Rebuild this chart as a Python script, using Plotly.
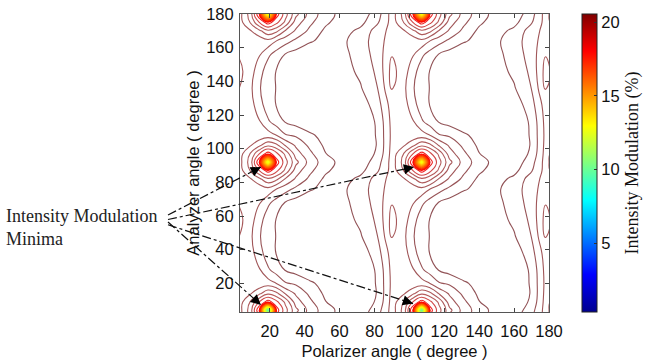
import plotly.graph_objects as go

# ---------------- data ----------------
polarizer_deg = [2, 9, 14, 19, 24, 29, 35, 43, 52, 62, 72, 82, 90, 97, 102, 107,
                 112, 117, 123, 131, 140, 150, 160, 170, 178, 185]
analyzer_deg = [-1, 4, 9, 14, 20, 28, 38, 48, 58, 68, 76, 82, 87, 92, 97, 102,
                108, 116, 126, 136, 146, 156, 164, 170, 175, 180, 185]

# intensity modulation (%) : rows follow analyzer_deg, columns follow polarizer_deg
intensity_modulation = [
    [19.40, 18.83, 18.21, 17.70, 18.12, 18.61, 19.36, 19.77, 20.12, 20.35, 20.28, 19.88, 19.40, 18.83, 18.21, 17.70, 18.12, 18.61, 19.36, 19.77, 20.12, 20.35, 20.28, 19.88, 19.40, 18.83],
    [19.39, 18.70, 17.55, 9.00, 17.70, 18.40, 19.09, 19.65, 20.03, 20.31, 20.39, 19.98, 19.39, 18.70, 17.55, 9.20, 17.70, 18.40, 19.09, 19.65, 20.03, 20.31, 20.39, 19.98, 19.39, 18.70],
    [19.40, 18.83, 18.21, 17.70, 18.12, 18.61, 19.36, 19.77, 20.17, 20.36, 20.44, 20.11, 19.40, 18.83, 18.21, 17.70, 18.12, 18.61, 19.36, 19.77, 20.17, 20.36, 20.44, 20.11, 19.40, 18.83],
    [19.42, 19.22, 18.94, 18.60, 18.78, 19.22, 19.57, 19.93, 20.25, 20.36, 20.46, 20.15, 19.42, 19.22, 18.94, 18.60, 18.78, 19.22, 19.57, 19.93, 20.25, 20.36, 20.46, 20.15, 19.42, 19.22],
    [19.44, 19.40, 19.42, 19.37, 19.53, 19.82, 19.90, 20.13, 20.28, 20.39, 20.48, 20.13, 19.44, 19.40, 19.42, 19.37, 19.53, 19.82, 19.90, 20.13, 20.28, 20.39, 20.48, 20.13, 19.44, 19.40],
    [19.42, 19.44, 19.49, 19.79, 20.02, 20.20, 20.31, 20.38, 20.43, 20.46, 20.48, 20.11, 19.42, 19.44, 19.49, 19.79, 20.02, 20.20, 20.31, 20.38, 20.43, 20.46, 20.48, 20.11, 19.42, 19.44],
    [19.36, 19.40, 19.69, 20.05, 20.20, 20.28, 20.35, 20.39, 20.43, 20.43, 20.38, 19.98, 19.36, 19.40, 19.69, 20.05, 20.20, 20.28, 20.35, 20.39, 20.43, 20.43, 20.38, 19.98, 19.36, 19.40],
    [19.16, 19.45, 19.82, 20.02, 20.20, 20.28, 20.35, 20.39, 20.41, 20.35, 20.21, 19.84, 19.16, 19.45, 19.82, 20.02, 20.20, 20.28, 20.35, 20.39, 20.41, 20.35, 20.21, 19.84, 19.16, 19.45],
    [19.07, 19.39, 19.69, 20.05, 20.20, 20.28, 20.35, 20.38, 20.38, 20.31, 20.11, 19.77, 19.07, 19.39, 19.69, 20.05, 20.20, 20.28, 20.35, 20.38, 20.38, 20.31, 20.11, 19.77, 19.07, 19.39],
    [19.21, 19.42, 19.49, 19.77, 20.00, 20.20, 20.31, 20.36, 20.35, 20.26, 20.05, 19.69, 19.21, 19.42, 19.49, 19.77, 20.00, 20.20, 20.31, 20.36, 20.35, 20.26, 20.05, 19.69, 19.21, 19.42],
    [19.36, 19.40, 19.40, 19.29, 19.53, 19.72, 19.93, 20.15, 20.26, 20.23, 20.02, 19.65, 19.36, 19.40, 19.40, 19.29, 19.53, 19.72, 19.93, 20.15, 20.26, 20.23, 20.02, 19.65, 19.36, 19.40],
    [19.40, 19.22, 18.94, 18.60, 18.78, 19.22, 19.57, 19.93, 20.25, 20.30, 20.10, 19.69, 19.40, 19.22, 18.94, 18.60, 18.78, 19.22, 19.57, 19.93, 20.25, 20.30, 20.10, 19.69, 19.40, 19.22],
    [19.40, 18.83, 18.21, 17.70, 18.12, 18.61, 19.36, 19.77, 20.12, 20.35, 20.28, 19.88, 19.40, 18.83, 18.21, 17.70, 18.12, 18.61, 19.36, 19.77, 20.12, 20.35, 20.28, 19.88, 19.40, 18.83],
    [19.39, 18.70, 17.55, 12.00, 17.70, 18.40, 19.09, 19.65, 20.03, 20.31, 20.39, 19.98, 19.39, 18.70, 17.55, 12.20, 17.70, 18.40, 19.09, 19.65, 20.03, 20.31, 20.39, 19.98, 19.39, 18.70],
    [19.40, 18.83, 18.21, 17.70, 18.12, 18.61, 19.36, 19.77, 20.17, 20.36, 20.44, 20.11, 19.40, 18.83, 18.21, 17.70, 18.12, 18.61, 19.36, 19.77, 20.17, 20.36, 20.44, 20.11, 19.40, 18.83],
    [19.42, 19.22, 18.94, 18.60, 18.78, 19.22, 19.57, 19.93, 20.25, 20.36, 20.46, 20.15, 19.42, 19.22, 18.94, 18.60, 18.78, 19.22, 19.57, 19.93, 20.25, 20.36, 20.46, 20.15, 19.42, 19.22],
    [19.44, 19.40, 19.42, 19.37, 19.53, 19.82, 19.90, 20.13, 20.28, 20.39, 20.48, 20.13, 19.44, 19.40, 19.42, 19.37, 19.53, 19.82, 19.90, 20.13, 20.28, 20.39, 20.48, 20.13, 19.44, 19.40],
    [19.42, 19.44, 19.49, 19.79, 20.02, 20.20, 20.31, 20.38, 20.43, 20.46, 20.48, 20.11, 19.42, 19.44, 19.49, 19.79, 20.02, 20.20, 20.31, 20.38, 20.43, 20.46, 20.48, 20.11, 19.42, 19.44],
    [19.36, 19.40, 19.69, 20.05, 20.20, 20.28, 20.35, 20.39, 20.43, 20.43, 20.38, 19.98, 19.36, 19.40, 19.69, 20.05, 20.20, 20.28, 20.35, 20.39, 20.43, 20.43, 20.38, 19.98, 19.36, 19.40],
    [19.16, 19.45, 19.82, 20.02, 20.20, 20.28, 20.35, 20.39, 20.41, 20.35, 20.21, 19.84, 19.16, 19.45, 19.82, 20.02, 20.20, 20.28, 20.35, 20.39, 20.41, 20.35, 20.21, 19.84, 19.16, 19.45],
    [19.07, 19.39, 19.69, 20.05, 20.20, 20.28, 20.35, 20.38, 20.38, 20.31, 20.11, 19.77, 19.07, 19.39, 19.69, 20.05, 20.20, 20.28, 20.35, 20.38, 20.38, 20.31, 20.11, 19.77, 19.07, 19.39],
    [19.21, 19.42, 19.49, 19.77, 20.00, 20.20, 20.31, 20.36, 20.35, 20.26, 20.05, 19.69, 19.21, 19.42, 19.49, 19.77, 20.00, 20.20, 20.31, 20.36, 20.35, 20.26, 20.05, 19.69, 19.21, 19.42],
    [19.36, 19.40, 19.40, 19.29, 19.53, 19.72, 19.93, 20.15, 20.26, 20.23, 20.02, 19.65, 19.36, 19.40, 19.40, 19.29, 19.53, 19.72, 19.93, 20.15, 20.26, 20.23, 20.02, 19.65, 19.36, 19.40],
    [19.40, 19.22, 18.94, 18.60, 18.78, 19.22, 19.57, 19.93, 20.25, 20.30, 20.10, 19.69, 19.40, 19.22, 18.94, 18.60, 18.78, 19.22, 19.57, 19.93, 20.25, 20.30, 20.10, 19.69, 19.40, 19.22],
    [19.40, 18.83, 18.21, 17.70, 18.12, 18.61, 19.36, 19.77, 20.12, 20.35, 20.28, 19.88, 19.40, 18.83, 18.21, 17.70, 18.12, 18.61, 19.36, 19.77, 20.12, 20.35, 20.28, 19.88, 19.40, 18.83],
    [19.39, 18.70, 17.55, 12.00, 17.70, 18.40, 19.09, 19.65, 20.03, 20.31, 20.39, 19.98, 19.39, 18.70, 17.55, 12.20, 17.70, 18.40, 19.09, 19.65, 20.03, 20.31, 20.39, 19.98, 19.39, 18.70],
    [19.40, 18.83, 18.21, 17.70, 18.12, 18.61, 19.36, 19.77, 20.17, 20.36, 20.44, 20.11, 19.40, 18.83, 18.21, 17.70, 18.12, 18.61, 19.36, 19.77, 20.17, 20.36, 20.44, 20.11, 19.40, 18.83],
]

cbar_range = [0.34, 20.56]
cbar_ticks = [5, 10, 15, 20]
axis_ticks = [20, 40, 60, 80, 100, 120, 140, 160, 180]

# minima pointed at by the arrows (degree)
minima_pol = [15.0, 102.7, 15.0, 102.1]
minima_ana = [89.1, 89.1, 7.2, 8.0]

# ---------------- styling ----------------
SANS = "Liberation Sans, Arial, Helvetica, sans-serif"
SERIF = "Liberation Serif, Times New Roman, serif"

jet = [[0.0, "#00008F"], [0.125, "#0000FF"], [0.375, "#00FFFF"],
       [0.625, "#FFFF00"], [0.875, "#FF0000"], [1.0, "#800000"]]
line_scale = [[0.0, "#00008F"], [0.125, "#0000FF"], [0.375, "#00FFFF"],
              [0.625, "#FFFF00"], [0.86, "#FF0000"], [0.875, "#e03a3a"],
              [0.9, "#b65c5c"], [1.0, "#8a5055"]]

fig = go.Figure()

fig.add_trace(go.Contour(
    x=polarizer_deg, y=analyzer_deg, z=intensity_modulation,
    zmin=cbar_range[0], zmax=cbar_range[1], zauto=False,
    colorscale=line_scale, showscale=False,
    autocontour=False,
    contours=dict(start=0.38, end=20.51, size=0.33, coloring="lines", showlabels=False),
    line=dict(width=1.1, smoothing=1.3),
    hoverinfo="skip",
))

# colour bar (off-screen helper carrying the colour scale)
fig.add_trace(go.Heatmap(
    z=[cbar_range], x=[-100, -90], y=[-100],
    zmin=cbar_range[0], zmax=cbar_range[1], colorscale=jet,
    hoverinfo="skip", showscale=True,
    colorbar=dict(
        x=1.107, xanchor="left", y=0.5, yanchor="middle",
        len=1.0, lenmode="fraction", thickness=15, thicknessmode="pixels",
        xpad=0, ypad=0, outlinewidth=1, outlinecolor="#222",
        tickvals=cbar_ticks, ticks="inside", ticklen=3, tickcolor="#333",
        tickfont=dict(family=SANS, size=16.5, color="#111"),
        title=dict(text="Intensity Modulation (%)", side="right",
                   font=dict(family=SERIF, size=18, color="#111")),
    ),
))

W, H = 649, 360
ML, MR, MT, MB = 240, 100, 14, 48
PW, PH = W - ML - MR, H - MT - MB
XR = [3, 180]
YR = [3, 180]


def to_paper(xv, yv):
    return ((xv - XR[0]) / (XR[1] - XR[0]), (yv - YR[0]) / (YR[1] - YR[0]))


def px_to_paper(px, py):
    return ((px - ML) / PW, (H - MB - py) / PH)


starts_px = [(168, 215), (168, 219.5), (168, 222), (168, 224.8)]
shapes = []
annotations = []
for (sx, sy), mx, my in zip(starts_px, minima_pol, minima_ana):
    x0, y0 = px_to_paper(sx, sy)
    x1, y1 = to_paper(mx, my)
    shapes.append(dict(type="line", xref="paper", yref="paper",
                       x0=x0, y0=y0, x1=x1, y1=y1,
                       line=dict(color="#111", width=1.2, dash="dashdot")))
    dxp = (x1 - x0) * PW
    dyp = -(y1 - y0) * PH
    n = (dxp ** 2 + dyp ** 2) ** 0.5
    annotations.append(dict(x=mx, y=my, xref="x", yref="y", text="",
                            showarrow=True, arrowhead=2, arrowsize=1.7,
                            arrowwidth=1.2, arrowcolor="#000",
                            ax=-dxp / n * 11, ay=-dyp / n * 11))

tx, ty = px_to_paper(4, 227.5)
annotations.append(dict(x=tx, y=ty, xref="paper", yref="paper",
                        text="Intensity Modulation<br>Minima", showarrow=False,
                        xanchor="left", yanchor="middle", align="left",
                        font=dict(family=SERIF, size=18, color="#222")))

axis_common = dict(
    tickvals=axis_ticks, ticks="inside", ticklen=4, tickcolor="#444",
    showline=True, linecolor="#555", linewidth=1, mirror="ticks",
    showgrid=False, zeroline=False, automargin=False,
    tickfont=dict(family=SANS, size=16.5, color="#111"),
)

fig.update_layout(
    width=W, height=H,
    margin=dict(l=ML, r=MR, t=MT, b=MB, pad=0, autoexpand=False),
    paper_bgcolor="white", plot_bgcolor="white",
    showlegend=False,
    xaxis=dict(range=XR, ticklabelstandoff=4,
               title=dict(text="Polarizer angle ( degree )", standoff=12,
                          font=dict(family=SANS, size=16.5, color="#111")),
               **axis_common),
    yaxis=dict(range=YR, ticklabelstandoff=2,
               title=dict(text="Analyzer angle ( degree )", standoff=2,
                          font=dict(family=SANS, size=16.5, color="#111")),
               **axis_common),
    shapes=shapes,
    annotations=annotations,
)

fig.write_html("out.html")
